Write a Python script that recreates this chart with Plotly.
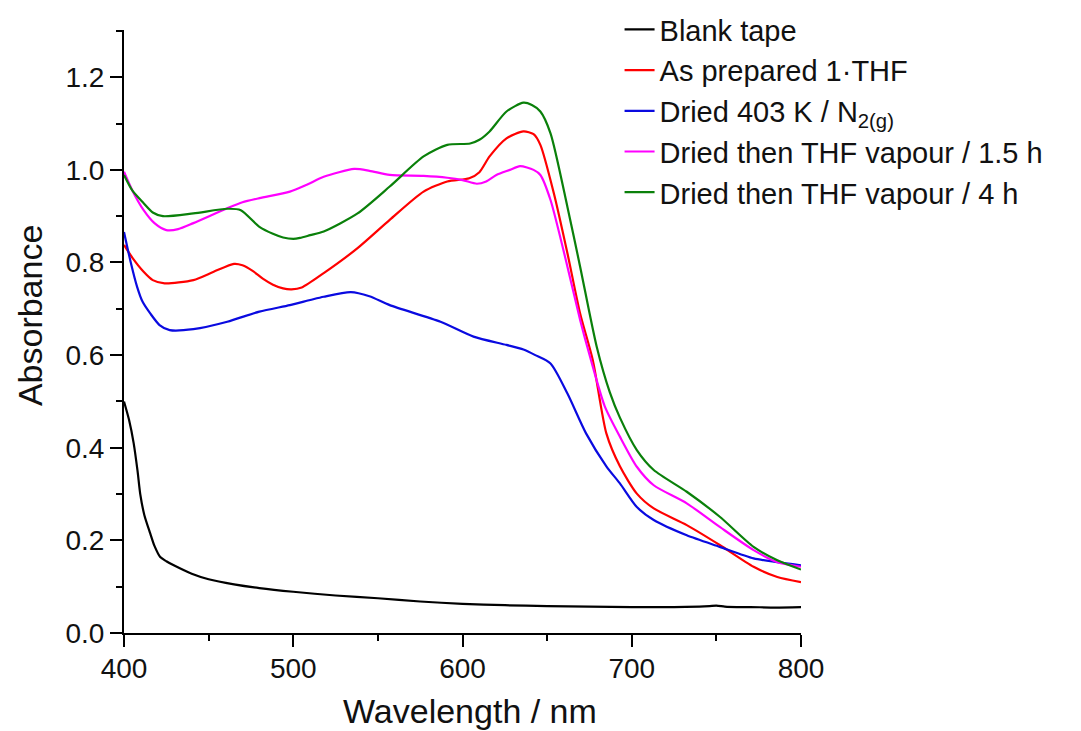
import plotly.graph_objects as go

# ---- data ----
names = ["Blank tape", "As prepared 1·THF", "Dried 403 K / N<sub>2(g)</sub>",
         "Dried then THF vapour / 1.5 h", "Dried then THF vapour / 4 h"]
colors = ["#000000", "#ff0000", "#0a0ae0", "#ff00ff", "#0a800a"]

wl_blank = [400, 403, 405.7, 408, 409.6, 412, 415.5, 418, 421.4, 425, 430, 440, 450, 465, 480, 500,
            525, 550, 575, 600, 625, 650, 675, 700, 725, 740, 746, 750, 755, 762, 770, 785, 800]
abs_blank = [0.50, 0.46, 0.41, 0.35, 0.30, 0.255, 0.215, 0.188, 0.164, 0.155, 0.145, 0.128, 0.116,
             0.105, 0.097, 0.089, 0.081, 0.075, 0.068, 0.063, 0.060, 0.058, 0.057, 0.056, 0.056,
             0.057, 0.058, 0.059, 0.057, 0.056, 0.056, 0.055, 0.056]

wl_prep = [400, 405, 411.6, 417, 424, 441, 453, 465, 470, 476, 482, 488, 494, 499, 505, 518, 538, 557,
           577, 591, 604, 610, 616, 626, 636, 642, 646, 654, 662, 669.5, 677, 685, 693, 703, 713,
           732.5, 752, 772, 786, 800]
abs_prep = [0.838, 0.81, 0.78, 0.762, 0.755, 0.762, 0.780, 0.797, 0.794, 0.782, 0.765, 0.752, 0.744,
            0.742, 0.746, 0.777, 0.831, 0.892, 0.953, 0.975, 0.982, 0.995, 1.029, 1.068, 1.083, 1.077,
            1.054, 0.949, 0.820, 0.690, 0.589, 0.431, 0.36, 0.301, 0.269, 0.233, 0.190, 0.143, 0.121,
            0.110]

wl_dried = [400, 404, 407.7, 411, 415.5, 421, 427, 441, 461, 480, 498, 510, 518, 534, 545, 557, 587,
            606.5, 626, 636, 643, 652, 662, 673, 685, 693, 703, 713, 732.5, 752, 772, 786, 800]
abs_dried = [0.866, 0.80, 0.748, 0.715, 0.690, 0.665, 0.654, 0.656, 0.672, 0.694, 0.708, 0.719, 0.726,
             0.736, 0.727, 0.708, 0.672, 0.640, 0.622, 0.612, 0.600, 0.582, 0.517, 0.431, 0.36, 0.323,
             0.272, 0.244, 0.211, 0.186, 0.161, 0.153, 0.146]

wl_thf15 = [400, 405, 411.6, 418, 425, 432, 441, 461, 470, 480, 498, 508, 518, 536, 545, 557, 577, 591,
            600, 608.5, 614, 620, 628, 634, 642, 646, 652, 662, 669.5, 675.4, 684, 693, 703, 713, 732.5,
            752, 772, 786, 800]
abs_thf15 = [0.996, 0.955, 0.913, 0.885, 0.870, 0.872, 0.885, 0.917, 0.930, 0.939, 0.953, 0.968, 0.985,
             1.002, 0.998, 0.989, 0.987, 0.983, 0.978, 0.970, 0.975, 0.989, 1.000, 1.008, 1.000, 0.989,
             0.935, 0.791, 0.676, 0.596, 0.49, 0.424, 0.359, 0.319, 0.280, 0.229, 0.179, 0.153, 0.143]

wl_thf4 = [400, 405, 411.6, 417, 423, 441, 461, 469, 480, 488, 494, 500, 504, 510, 518, 538, 557, 577,
           591, 604.5, 610, 616, 626, 636, 641, 646, 652, 662, 669.5, 679.3, 687, 693, 703, 713, 732.5,
           752, 772, 786, 800]
abs_thf4 = [0.989, 0.955, 0.928, 0.908, 0.900, 0.906, 0.916, 0.913, 0.877, 0.862, 0.854, 0.851, 0.853,
            0.859, 0.867, 0.906, 0.964, 1.029, 1.054, 1.057, 1.065, 1.083, 1.126, 1.145, 1.140, 1.126,
            1.079, 0.920, 0.791, 0.618, 0.52, 0.465, 0.395, 0.352, 0.305, 0.251, 0.186, 0.157, 0.137]

x_ticks = [400, 500, 600, 700, 800]
y_ticks = [0.0, 0.2, 0.4, 0.6, 0.8, 1.0, 1.2]
y_tick_labels = ["0.0", "0.2", "0.4", "0.6", "0.8", "1.0", "1.2"]
x_title = "Wavelength / nm"
y_title = "Absorbance"

series = [(wl_blank, abs_blank), (wl_prep, abs_prep), (wl_dried, abs_dried),
          (wl_thf15, abs_thf15), (wl_thf4, abs_thf4)]

FONT = "Liberation Sans, Arial, sans-serif"

fig = go.Figure()
for (xs, ys), name, col in zip(series, names, colors):
    fig.add_trace(go.Scatter(x=xs, y=ys, mode="lines", name=name,
                             line=dict(color=col, width=2.2, shape="spline", smoothing=0.7)))

# page body has an 8px margin, so the figure is sized 1073x723 to fill the 1081x731 window
fig.update_layout(
    width=1073, height=723,
    margin=dict(l=116, r=280, t=22, b=98, autoexpand=False),
    paper_bgcolor="white", plot_bgcolor="white",
    font=dict(family=FONT, color="#111111", size=28),
    legend=dict(x=0.732, y=1.043, xanchor="left", yanchor="top",
                font=dict(size=29, family=FONT), bgcolor="rgba(0,0,0,0)",
                tracegroupgap=0, itemwidth=30),
    showlegend=True,
    annotations=[
        dict(text=x_title, xref="paper", yref="paper", x=0.511, y=-0.1294,
             xanchor="center", yanchor="middle", showarrow=False, font=dict(size=34)),
        dict(text=y_title, xref="paper", yref="paper", x=-0.139, y=0.527,
             xanchor="center", yanchor="middle", textangle=-90, showarrow=False,
             font=dict(size=34)),
    ],
)
fig.update_xaxes(
    range=[400, 800], tickvals=x_ticks, ticks="outside", ticklen=12, tickwidth=2,
    tickcolor="black", showline=True, linecolor="black", linewidth=2, showgrid=False,
    zeroline=False, tickfont=dict(size=28), automargin=False, ticklabelstandoff=-3,
    minor=dict(ticks="outside", ticklen=6, tickwidth=2, tickcolor="black", dtick=50, showgrid=False),
)
fig.update_yaxes(
    range=[0, 1.302], tickvals=y_ticks, ticktext=y_tick_labels, ticks="outside", ticklen=12,
    tickwidth=2, tickcolor="black", showline=True, linecolor="black", linewidth=2,
    showgrid=False, zeroline=False, tickfont=dict(size=28), automargin=False, ticklabelstandoff=0,
    minor=dict(ticks="outside", ticklen=6, tickwidth=2, tickcolor="black", dtick=0.1, showgrid=False),
)

fig.write_html("out.html")
